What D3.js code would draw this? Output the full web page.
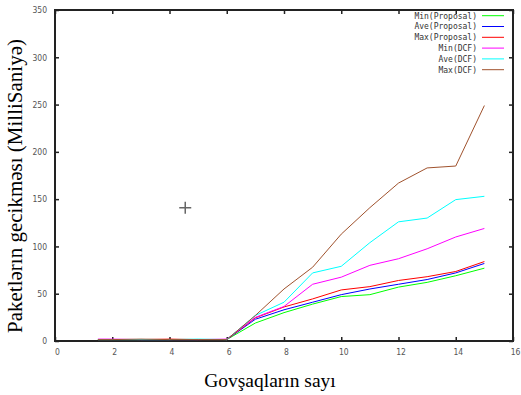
<!DOCTYPE html>
<html>
<head>
<meta charset="utf-8">
<script src="https://cdn.jsdelivr.net/npm/d3@7"></script>
<style>
body{margin:0;background:#fff}
</style>
</head>
<body>
<script>
// number of nodes
const xs=[1.5,2,3,4,5,6,7,8,9,10,11,12,13,14,15]
const minProposal=[1.5,1.5,1.5,1.5,1.5,1.5,19,30,39,47,49,57,62,69,77]
const aveProposal=[1.5,1.5,1.5,1.5,1.5,1.5,23,33,41,49,55,60,65,72,82]
const maxProposal=[1.5,1.5,1.5,2,1.5,1.5,24.5,36,44.5,54,57.5,64,68,73.5,84]
const minDCF=[2,2,1.5,1.5,1.5,2,25,36.5,60,67.5,80,87,97.5,110,119]
const aveDCF=[1.5,1.5,1.5,1.5,2,1.5,27,41,72,79,104,126,130,149.5,153]
const maxDCF=[1.5,1.5,2,1.5,1.5,1.5,27,55,78,113,141,167,183,185,249]
const names=['Min(Proposal)','Ave(Proposal)','Max(Proposal)','Min(DCF)','Ave(DCF)','Max(DCF)']
const colors=['#00ff00','#0000ff','#ff0000','#ff00ff','#00ffff','#a0522d']
const xTicks=[0,2,4,6,8,10,12,14,16]
const yTicks=[0,50,100,150,200,250,300,350]
const marker=[4.55,141]

const series=[minProposal,aveProposal,maxProposal,minDCF,aveDCF,maxDCF]

const W=521,H=395
const margin=({top:10,right:8,bottom:54,left:55})
const width=W-margin.left-margin.right,
	height=H-margin.top-margin.bottom

let svg=d3.select('body').append('svg')
	.attr('width',W)
	.attr('height',H)
	.style('font-family','DejaVu Sans Mono, monospace')

let g=svg.append('g')
	.attr('transform','translate('+margin.left+','+margin.top+')')

let xScale=d3.scaleLinear().domain([0,16]).range([0,width])
let yScale=d3.scaleLinear().domain([0,350]).range([height,0])

// ticks, inward on all four sides
const tickCol='#222'
g.append('g').attr('transform',`translate(0,${height})`)
	.call(d3.axisBottom(xScale).tickValues(xTicks).tickSize(-4).tickPadding(8).tickFormat(d3.format('d')))
g.append('g')
	.call(d3.axisTop(xScale).tickValues(xTicks).tickSize(-4).tickFormat(''))
g.append('g')
	.call(d3.axisLeft(yScale).tickValues(yTicks).tickSize(-4).tickPadding(8).tickFormat(d3.format('d')))
g.append('g').attr('transform',`translate(${width},0)`)
	.call(d3.axisRight(yScale).tickValues(yTicks).tickSize(-4).tickFormat(''))

g.selectAll('.domain').remove()
g.selectAll('.tick line').attr('stroke',tickCol).attr('stroke-width',1.5)
g.selectAll('.tick text')
	.attr('fill','#555')
	.style('font-size','8.5px')
	.style('font-family','DejaVu Sans Condensed, sans-serif')
g.selectAll('.tick text').filter(function(){return this.parentNode.parentNode.getAttribute('transform')})
	.attr('dx',2)

// frame
g.append('rect')
	.attr('x',0).attr('y',0)
	.attr('width',width).attr('height',height)
	.attr('fill','none')
	.attr('stroke','#222')
	.attr('stroke-width',2)

const line=d3.line()
	.x((d,i)=>xScale(xs[i]))
	.y(d=>yScale(d))

g.append('g')
	.selectAll('path')
	.data(series)
	.join('path')
	.attr('fill','none')
	.attr('stroke',(d,i)=>colors[i])
	.attr('stroke-width',1)
	.attr('d',line)

// crosshair marker
g.append('path')
	.attr('d',`M${xScale(marker[0])-6},${yScale(marker[1])}h12M${xScale(marker[0])},${yScale(marker[1])-6}v12`)
	.attr('stroke','#666')
	.attr('stroke-width',1.5)

// legend
const legend=svg.append('g')
	.selectAll('g')
	.data(names)
	.join('g')
	.attr('transform',(d,i)=>`translate(477,${15.7+i*10.8})`)
legend.append('text')
	.text(d=>d)
	.attr('text-anchor','end')
	.attr('dy','0.35em')
	.attr('fill','#333')
	.style('font-size','8px')
legend.append('line')
	.attr('x1',5).attr('x2',27)
	.attr('stroke',(d,i)=>colors[i])

svg.append('text')
	.attr('x',270)
	.attr('y',387)
	.attr('text-anchor','middle')
	.style('font-family','Liberation Serif, serif')
	.style('font-size','19.5px')
	.text('Govşaqların sayı')

svg.append('text')
	.attr('transform',`translate(22,186) rotate(-90)`)
	.attr('text-anchor','middle')
	.style('font-family','Liberation Serif, serif')
	.style('font-size','21px')
	.text('Paketlərın gecikməsı (MilliSaniyə)')
</script>
</body>
</html>
